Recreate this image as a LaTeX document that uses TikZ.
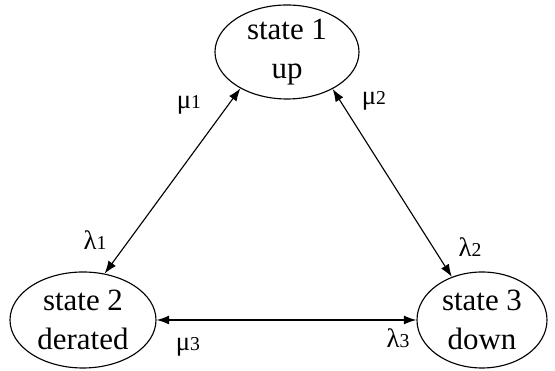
\documentclass[tikz,border=0pt]{standalone}
\usepackage{fontspec}
\setmainfont{Liberation Serif}
\usetikzlibrary{shapes.geometric,arrows.meta}

\newcommand{\rate}[2]{{\fontsize{19}{21}\selectfont #1}{\fontsize{14}{16}\selectfont #2}}

\begin{document}
\begin{tikzpicture}[
  every node/.style={inner sep=0pt},
  state/.style={draw, ellipse, line width=0.8pt, align=center,
    font=\fontsize{22}{28}\selectfont},
  trans/.style={{Latex[length=9pt,width=6.5pt]}-{Latex[length=9pt,width=6.5pt]}, line width=0.8pt}]
  \useasboundingbox (0,0) rectangle (13.875,9.275);
  % the three states
  \node[state, minimum width=3.6cm, minimum height=2.35cm] (st1) at (7.175,7.975) {state 1\\up};
  \node[state, minimum width=3.65cm, minimum height=2.4cm] (st2) at (2.075,1.275) {state 2\\derated};
  \node[state, minimum width=3.25cm, minimum height=2.4cm] (st3) at (12.05,1.275) {state 3\\down};
  % transitions between them
  \draw[trans] (st1.218) -- (st2.65);
  \draw[trans] (st1.321) -- (st3.125);
  \draw[trans, line width=1pt] (st2.east) -- (st3.west);
  % rates
  \node (mu1) at (4.725,6.65) {\rate{μ}{1}};
  \node (mu2) at (9.35,6.75) {\rate{μ}{2}};
  \node (la1) at (2.375,3.275) {\rate{λ}{1}};
  \node (la2) at (11.75,3.1) {\rate{λ}{2}};
  \node (mu3) at (4.7,0.6) {\rate{μ}{3}};
  \node (la3) at (9.95,0.83) {\rate{λ}{3}};
\end{tikzpicture}
\end{document}
